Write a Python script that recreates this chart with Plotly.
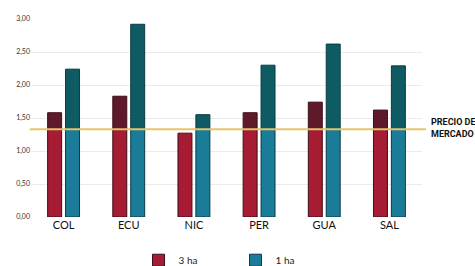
import plotly.graph_objects as go

categories = ["COL", "ECU", "NIC", "PER", "GUA", "SAL"]
ha3 = [1.58, 1.83, 1.27, 1.58, 1.74, 1.62]
ha1 = [2.24, 2.92, 1.55, 2.30, 2.62, 2.29]
market_price = 1.33
y_ticks = [0, 0.5, 1.0, 1.5, 2.0, 2.5, 3.0]

RED, RED_DK, RED_LN = "#a61c33", "#5e1a2b", "#3d0f1a"
BLUE, BLUE_DK, BLUE_LN = "#1a7c98", "#0e5b63", "#0a3c44"

def below(vals):
    return [min(v, market_price) for v in vals]

def above(vals):
    return [v - market_price if v > market_price else None for v in vals]

fig = go.Figure()
fig.add_bar(x=categories, y=below(ha3), offsetgroup="a", name="3 ha",
            marker=dict(color=RED, line=dict(color=RED_LN, width=1)))
fig.add_bar(x=categories, y=above(ha3), base=market_price, offsetgroup="a",
            showlegend=False, marker=dict(color=RED_DK, line=dict(color=RED_LN, width=1)))
fig.add_bar(x=categories, y=below(ha1), offsetgroup="b", name="1 ha",
            marker=dict(color=BLUE, line=dict(color=BLUE_LN, width=1)))
fig.add_bar(x=categories, y=above(ha1), base=market_price, offsetgroup="b",
            showlegend=False, marker=dict(color=BLUE_DK, line=dict(color=BLUE_LN, width=1)))

fig.add_shape(type="line", xref="paper", yref="y", x0=-0.003, x1=1.01,
              y0=market_price, y1=market_price, layer="above",
              line=dict(color="#e6c46c", width=2))
fig.add_annotation(xref="paper", yref="y", x=1.018, y=market_price + 0.02,
                   xanchor="left", yanchor="middle", align="left", showarrow=False,
                   text="<b>PRECIO DEL<br>MERCADO</b>",
                   font=dict(family="Liberation Sans Narrow, Roboto", size=9, color="#111111"))

fig.update_layout(
    width=475, height=266,
    margin=dict(l=31, r=53, t=19, b=49, autoexpand=False),
    paper_bgcolor="white", plot_bgcolor="white",
    barmode="group", bargap=0.45, bargroupgap=0.22,
    separators=",.",
    font=dict(family="Lato", color="#222222"),
    legend=dict(orientation="h", x=0.275, xanchor="left", y=-0.145, yanchor="top",
                font=dict(size=10, color="#222222"), traceorder="normal",
                entrywidth=52, entrywidthmode="pixels"),
)
fig.update_xaxes(showgrid=False, showline=False, ticks="",
                 tickfont=dict(family="Lato", size=11, color="#111111"))
fig.update_yaxes(range=[0, 3], tickvals=y_ticks, tickformat=".2f",
                 showgrid=True, gridcolor="#ebebeb", gridwidth=1,
                 zeroline=False, showline=False, ticks="",
                 tickfont=dict(family="Lato", size=7, color="#333333"))

fig.write_html("out.html", config={"displayModeBar": False},
               post_script="document.body.style.margin='0';document.body.style.overflow='hidden';")
